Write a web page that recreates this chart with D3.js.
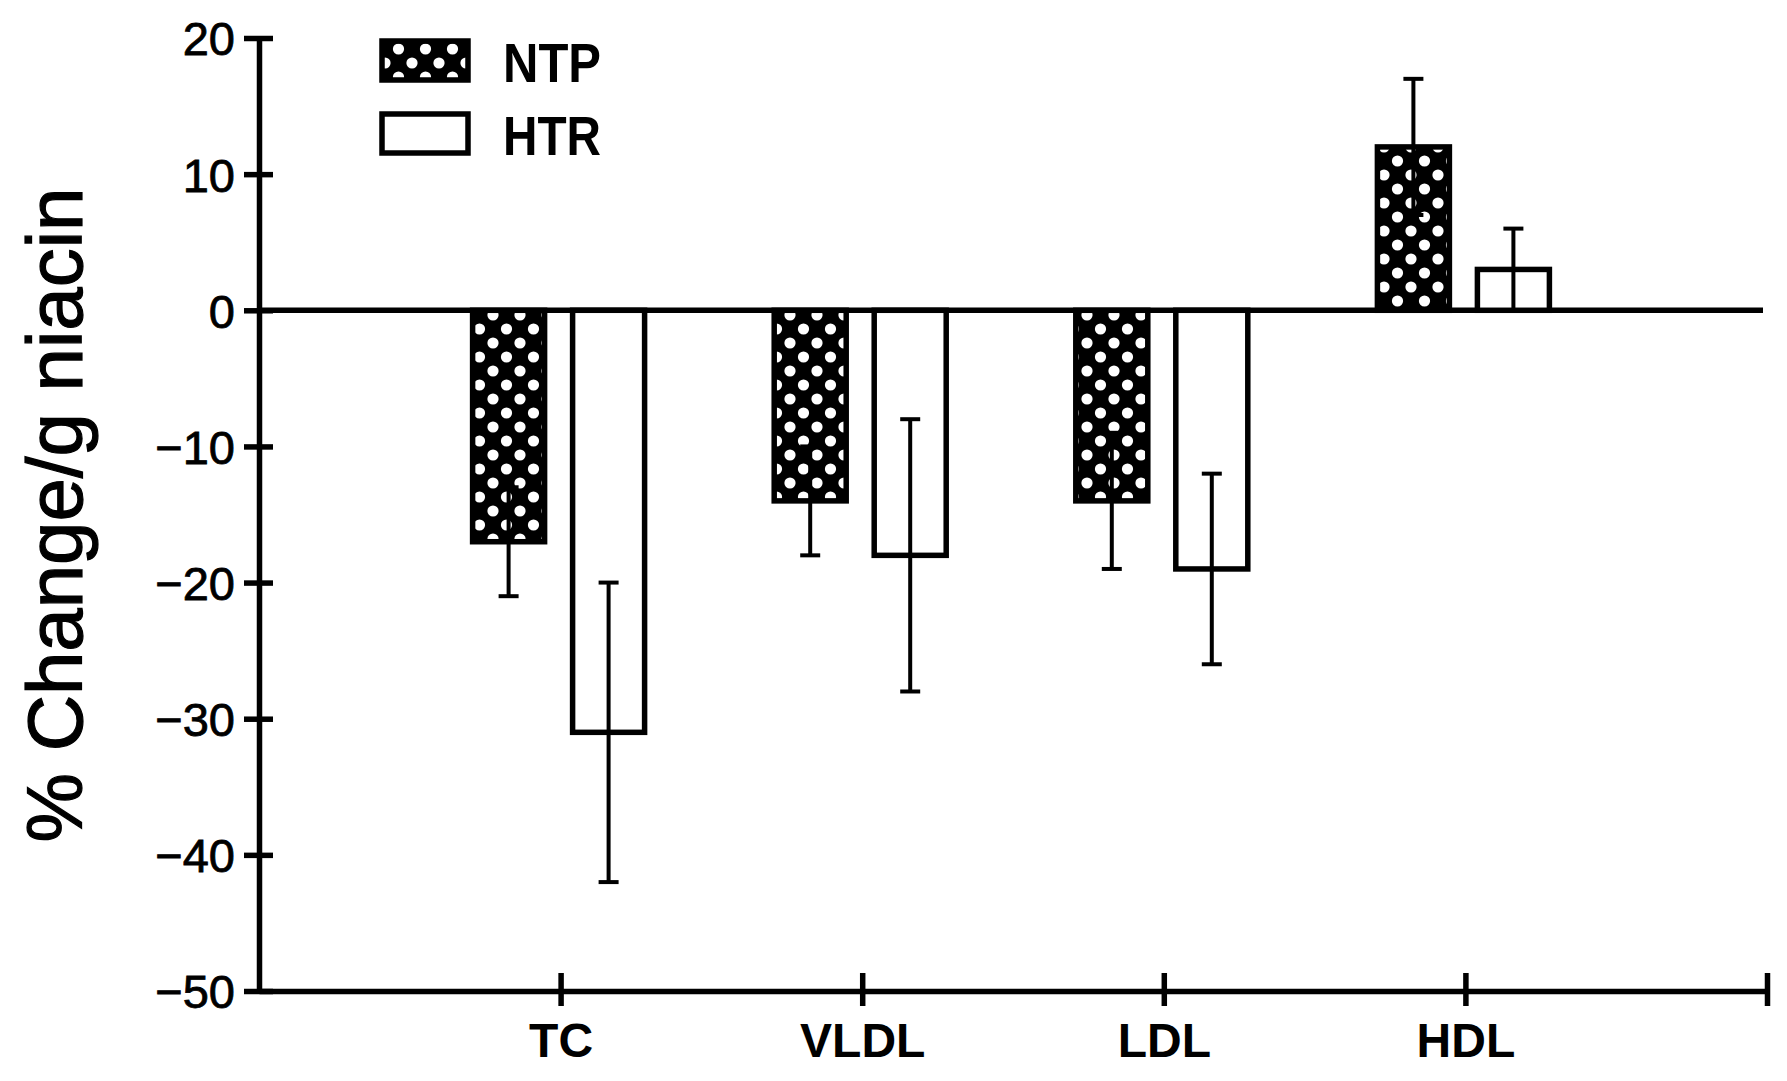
<!DOCTYPE html>
<html>
<head>
<meta charset="utf-8">
<script src="https://cdn.jsdelivr.net/npm/d3@7"></script>
<style>
  body { margin: 0; background: #fff; }
  svg { display: block; }
  text { font-family: "Liberation Sans", Arial, sans-serif; fill: #000; }
</style>
</head>
<body>
<svg id="chart" width="1787" height="1081"></svg>
<script>
// values
const categories = ["TC", "VLDL", "LDL", "HDL"];
const ntpValues = [-17, -14, -14, 12];
const ntpErrors = [4, 4, 5, 5];
const htrValues = [-31, -18, -19, 3];
const htrErrors = [11, 10, 7, 3];
const yTicks = [20, 10, 0, -10, -20, -30, -40, -50];
const seriesNames = ["NTP", "HTR"];

const svg = d3.select("#chart");

// x: category index, 1..4, axis runs 0..5
let xScale = d3.scaleLinear().domain([0, 5]).range([259, 1767]);
let yScale = d3.scaleLinear().domain([-50, 20]).range([991, 38]);

let barWidth = 72;
let ntpOffset = -52;
let htrOffset = 48;
let lineW = 5.5;

// dotted pattern for NTP
let defs = svg.append("defs");
let pat = defs.append("pattern")
  .attr("id", "dots")
  .attr("patternUnits", "userSpaceOnUse")
  .attr("width", 27)
  .attr("height", 28);
pat.append("rect").attr("width", 27).attr("height", 28).attr("fill", "#000");
[[7, 7], [20.5, 21], [-6.5, 21], [33.5, 21], [7, 35], [20.5, -7]].forEach(p => {
  pat.append("circle").attr("cx", p[0]).attr("cy", p[1]).attr("r", 5.6).attr("fill", "#fff");
});

let rows = categories.map((c, i) => ({
  cat: c, idx: i + 1,
  ntp: ntpValues[i], ntpErr: ntpErrors[i],
  htr: htrValues[i], htrErr: htrErrors[i]
}));

// zero line
svg.append("line")
  .attr("x1", xScale(0)).attr("x2", xScale(5) - 4)
  .attr("y1", yScale(0)).attr("y2", yScale(0))
  .attr("stroke", "#000").attr("stroke-width", lineW);

// bars
function drawBars(key, offset, fill) {
  svg.selectAll("rect." + key)
    .data(rows)
    .enter()
    .append("rect")
    .attr("class", key)
    .attr("x", d => xScale(d.idx) + offset - barWidth / 2)
    .attr("width", barWidth)
    .attr("y", d => yScale(Math.max(0, d[key])))
    .attr("height", d => Math.abs(yScale(d[key]) - yScale(0)))
    .attr("fill", fill)
    .attr("stroke", "#000")
    .attr("stroke-width", lineW);

  let err = svg.selectAll("g.err" + key)
    .data(rows)
    .enter()
    .append("g")
    .attr("class", "err" + key);
  err.append("line")
    .attr("x1", d => xScale(d.idx) + offset)
    .attr("x2", d => xScale(d.idx) + offset)
    .attr("y1", d => yScale(d[key] - d[key + "Err"]))
    .attr("y2", d => yScale(d[key] + d[key + "Err"]))
    .attr("stroke", "#000").attr("stroke-width", 4);
  [-1, 1].forEach(s => {
    err.append("line")
      .attr("x1", d => xScale(d.idx) + offset - 10)
      .attr("x2", d => xScale(d.idx) + offset + 10)
      .attr("y1", d => yScale(d[key] + s * d[key + "Err"]))
      .attr("y2", d => yScale(d[key] + s * d[key + "Err"]))
      .attr("stroke", "#000").attr("stroke-width", 4);
  });
}
drawBars("ntp", ntpOffset, "url(#dots)");
drawBars("htr", htrOffset, "#fff");

// y axis, ticks crossing the line
let gY = svg.append("g").attr("transform", `translate(${xScale(0)},0)`);
gY.call(d3.axisLeft(yScale).tickValues(yTicks).tickSize(15).tickSizeOuter(0)
    .tickFormat(d => d < 0 ? "\u2212" + Math.abs(d) : d));
let gY2 = svg.append("g").attr("transform", `translate(${xScale(0)},0)`);
gY2.call(d3.axisRight(yScale).tickValues(yTicks).tickSize(14).tickSizeOuter(0).tickFormat(""));
gY2.select(".domain").remove();
gY.select(".domain").attr("stroke-width", lineW);
gY.selectAll(".tick line").attr("stroke-width", lineW);
gY2.selectAll(".tick line").attr("stroke-width", lineW);
gY.selectAll(".tick text")
  .attr("x", -24)
  .attr("dy", "0.36em")
  .style("font-size", "47px")
  .style("stroke", "#000")
  .style("stroke-width", "0.8px")
  .style("font-family", "Liberation Sans, Arial, sans-serif");

// x axis
let xTicks = [1, 2, 3, 4, 5];
let gX = svg.append("g").attr("transform", `translate(0,${yScale(-50)})`);
gX.call(d3.axisBottom(xScale).tickValues(xTicks).tickSize(15).tickSizeOuter(0)
    .tickFormat(d => categories[d - 1] || ""));
let gX2 = svg.append("g").attr("transform", `translate(0,${yScale(-50)})`);
gX2.call(d3.axisTop(xScale).tickValues(xTicks).tickSize(18).tickSizeOuter(0).tickFormat(""));
gX2.select(".domain").remove();
gX.select(".domain").attr("stroke-width", lineW);
gX.selectAll(".tick line").attr("stroke-width", lineW);
gX2.selectAll(".tick line").attr("stroke-width", lineW);
gX.selectAll(".tick text")
  .attr("y", 32)
  .attr("dy", "0.71em")
  .style("font-size", "48px")
  .style("font-weight", "bold")
  .style("font-family", "Liberation Sans, Arial, sans-serif");

// y title
svg.append("text")
  .attr("transform", "translate(82,515) rotate(-90)")
  .attr("text-anchor", "middle")
  .style("font-size", "78px")
  .style("stroke", "#000")
  .style("stroke-width", "1.2px")
  .text("% Change/g niacin");

// legend
let legend = svg.append("g");
seriesNames.forEach((name, i) => {
  legend.append("rect")
    .attr("x", 382).attr("y", 41 + i * 73)
    .attr("width", 86).attr("height", 39)
    .attr("fill", i === 0 ? "url(#dots)" : "#fff")
    .attr("stroke", "#000").attr("stroke-width", lineW);
  legend.append("text")
    .attr("x", 503).attr("y", 82 + i * 73)
    .attr("textLength", 98)
    .attr("lengthAdjust", "spacingAndGlyphs")
    .style("font-size", "56px")
    .style("font-weight", "bold")
    .text(name);
});
</script>
</body>
</html>
